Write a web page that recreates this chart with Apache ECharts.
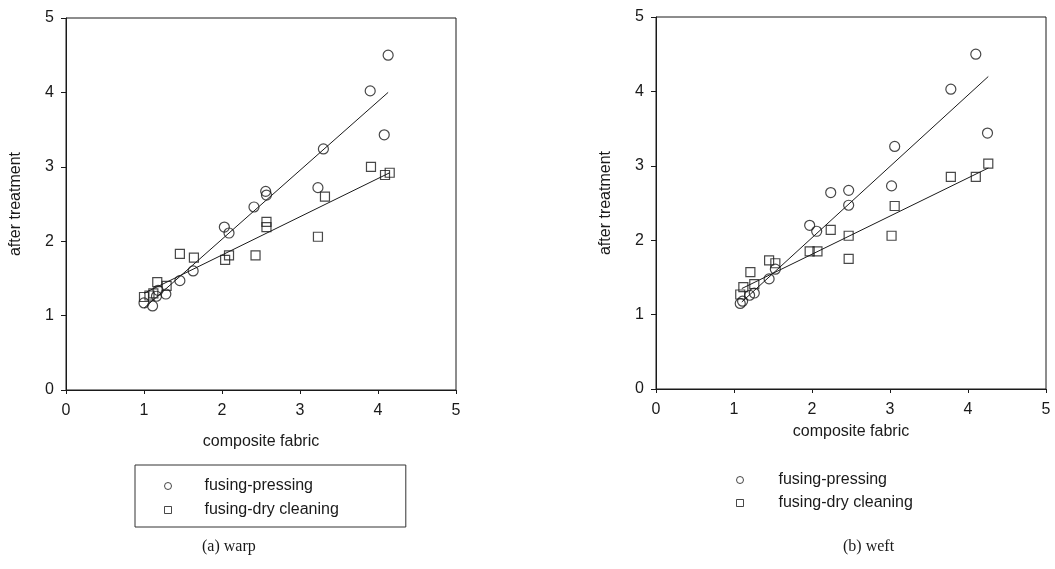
<!DOCTYPE html>
<html>
<head>
<meta charset="utf-8">
<script src="https://cdn.jsdelivr.net/npm/echarts@6/dist/echarts.min.js"></script>
<style>
html,body{margin:0;padding:0;background:#fff;}
#chart{width:1055px;height:569px;}
</style>
</head>
<body>
<div id="chart"></div>
<script>
// ---- data ----
var axisTicks = [0, 1, 2, 3, 4, 5];

// (a) warp
var warpPressing = [
  [4.13, 4.50], [3.90, 4.02], [4.08, 3.43], [3.30, 3.24], [3.23, 2.72],
  [2.56, 2.67], [2.57, 2.62], [2.41, 2.46], [2.03, 2.19], [2.09, 2.11],
  [1.63, 1.60], [1.46, 1.47], [1.28, 1.29], [1.18, 1.34], [1.16, 1.26],
  [1.00, 1.17], [1.11, 1.13]
];
var warpDry = [
  [3.91, 3.00], [4.09, 2.89], [4.15, 2.92], [3.32, 2.60], [2.57, 2.26],
  [2.57, 2.19], [3.23, 2.06], [1.46, 1.83], [1.64, 1.78], [2.04, 1.75],
  [2.09, 1.81], [2.43, 1.81], [1.17, 1.45], [1.29, 1.40], [1.12, 1.30],
  [1.00, 1.25], [1.07, 1.27]
];
var warpPressFit = [[1.00, 1.10], [4.13, 4.00]];
var warpDryFit = [[1.00, 1.30], [4.15, 2.92]];

// (b) weft
var weftPressing = [
  [4.10, 4.50], [3.78, 4.03], [4.25, 3.44], [3.06, 3.26], [3.02, 2.73],
  [2.24, 2.64], [2.47, 2.67], [2.47, 2.47], [1.97, 2.20], [2.06, 2.12],
  [1.53, 1.61], [1.45, 1.48], [1.26, 1.29], [1.20, 1.26], [1.08, 1.15],
  [1.11, 1.18]
];
var weftDry = [
  [3.78, 2.85], [4.10, 2.85], [4.26, 3.03], [3.06, 2.46], [3.02, 2.06],
  [2.47, 2.06], [2.47, 1.75], [2.24, 2.14], [1.97, 1.85], [2.07, 1.85],
  [1.45, 1.73], [1.53, 1.69], [1.21, 1.57], [1.26, 1.41], [1.12, 1.37],
  [1.08, 1.27]
];
var weftPressFit = [[1.10, 1.17], [4.26, 4.20]];
var weftDryFit = [[1.10, 1.35], [4.26, 2.97]];

var nameP = 'fusing-pressing';
var nameD = 'fusing-dry cleaning';

// ---- styling ----
var FONT = 'Liberation Sans, Arial, sans-serif';
var SERIF = 'Liberation Serif, DejaVu Serif, serif';
var INK = '#1a1a1a';
var FS = 16;

function xAxisCfg(gridIndex, nameGap) {
  return {
    type: 'value', gridIndex: gridIndex, min: 0, max: 5, interval: 1,
    name: 'composite fabric', nameLocation: 'middle', nameGap: nameGap,
    nameTextStyle: {fontFamily: FONT, fontSize: FS, color: INK},
    axisLine: {show: true, onZero: false, lineStyle: {color: INK, width: 1}},
    axisTick: {show: true, length: 4, lineStyle: {color: INK}},
    axisLabel: {fontFamily: FONT, fontSize: FS, color: INK, margin: 13,
      formatter: function (v) { return axisTicks.indexOf(v) >= 0 ? String(v) : ''; }},
    splitLine: {show: false}
  };
}
function yAxisCfg(gridIndex) {
  return {
    type: 'value', gridIndex: gridIndex, min: 0, max: 5, interval: 1,
    name: 'after treatment', nameLocation: 'middle', nameGap: 42, nameRotate: 90,
    nameTextStyle: {fontFamily: FONT, fontSize: FS, color: INK},
    axisLine: {show: true, onZero: false, lineStyle: {color: INK, width: 1}},
    axisTick: {show: true, length: 5, lineStyle: {color: INK}},
    axisLabel: {fontFamily: FONT, fontSize: FS, color: INK, margin: 12,
      formatter: function (v) { return axisTicks.indexOf(v) >= 0 ? String(v) : ''; }},
    splitLine: {show: false}
  };
}
function scatter(name, data, symbol, gi) {
  return {
    type: 'scatter', name: name, data: data, xAxisIndex: gi, yAxisIndex: gi,
    symbol: symbol, symbolSize: symbol === 'circle' ? 10 : 9,
    itemStyle: {color: 'rgba(255,255,255,0)', borderColor: INK, borderWidth: 1.2},
    emphasis: {disabled: true}, z: 3
  };
}
function fit(name, data, gi) {
  return {
    type: 'line', name: name, data: data, xAxisIndex: gi, yAxisIndex: gi,
    symbol: 'none', showSymbol: false, silent: true,
    lineStyle: {color: INK, width: 1}, z: 2, legendHoverLink: false
  };
}

var chart = echarts.init(document.getElementById('chart'), null, {renderer: 'canvas'});
var option = {
  backgroundColor: '#fff',
  animation: false,
  grid: [
    {left: 66, top: 18, width: 390, height: 372, show: true, borderColor: INK, borderWidth: 1, backgroundColor: 'transparent'},
    {left: 656, top: 17, width: 390, height: 372, show: true, borderColor: INK, borderWidth: 1, backgroundColor: 'transparent'}
  ],
  xAxis: [xAxisCfg(0, 44), xAxisCfg(1, 35)],
  yAxis: [yAxisCfg(0), yAxisCfg(1)],
  legend: [
    {
      data: [{name: nameP, icon: 'circle'}, {name: nameD, icon: 'rect'}],
      orient: 'vertical', left: 135, top: 465,
      itemWidth: 7, itemHeight: 7, itemGap: 6,
      padding: [12, 67, 8, 29],
      borderColor: '#333', borderWidth: 1,
      selectedMode: false,
      itemStyle: {color: 'rgba(255,255,255,0)', borderColor: INK, borderWidth: 1},
      textStyle: {fontFamily: FONT, fontSize: FS, color: INK, padding: [0, 0, 0, 28], lineHeight: 18}
    },
    {
      data: [{name: nameP, icon: 'circle'}, {name: nameD, icon: 'rect'}],
      orient: 'vertical', left: 736, top: 471,
      itemWidth: 7, itemHeight: 7, itemGap: 5,
      padding: 0,
      selectedMode: false,
      itemStyle: {color: 'rgba(255,255,255,0)', borderColor: INK, borderWidth: 1},
      textStyle: {fontFamily: FONT, fontSize: FS, color: INK, padding: [0, 0, 0, 30], lineHeight: 18}
    }
  ],
  graphic: [
    {type: 'text', left: 202, top: 539, style: {text: '(a) warp', fontFamily: SERIF, fontSize: 16, fill: INK}},
    {type: 'text', left: 843, top: 539, style: {text: '(b) weft', fontFamily: SERIF, fontSize: 16, fill: INK}}
  ],
  series: [
    scatter(nameP, warpPressing, 'circle', 0),
    scatter(nameD, warpDry, 'rect', 0),
    fit('warp pressing fit', warpPressFit, 0),
    fit('warp dry cleaning fit', warpDryFit, 0),
    scatter(nameP, weftPressing, 'circle', 1),
    scatter(nameD, weftDry, 'rect', 1),
    fit('weft pressing fit', weftPressFit, 1),
    fit('weft dry cleaning fit', weftDryFit, 1)
  ]
};
chart.setOption(option);
</script>
</body>
</html>
